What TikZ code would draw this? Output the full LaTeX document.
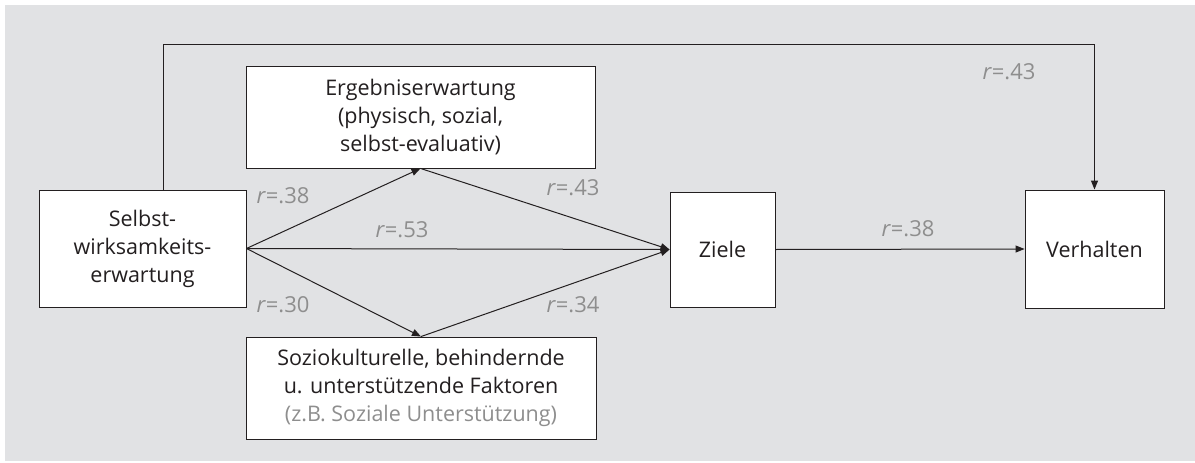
\documentclass[tikz,border=0pt]{standalone}
\usepackage{fontspec}
\setmainfont{Open Sans}
\usetikzlibrary{arrows.meta,calc}
\definecolor{bg}{HTML}{E1E2E4}
\definecolor{lbl}{HTML}{8E8E8E}
\definecolor{ln}{HTML}{231F20}
\begin{document}
\begin{tikzpicture}[x=1pt,y=-1pt,
  box/.style={draw=ln,line width=0.9pt,fill=white,align=center,inner sep=0pt,
    font=\fontsize{21.5}{28}\selectfont,text=ln},
  arr/.style={draw=ln,line width=1pt,-{Triangle[length=9pt,width=7pt]}},
  rlab/.style={text=lbl,font=\fontsize{22}{24}\selectfont,inner sep=0pt}]
\useasboundingbox (0,0) rectangle (1195,463);
\fill[bg] (5,5) rectangle (1195,461);
\node[box,minimum width=207pt,minimum height=117pt] (sw) at (142.5,248.5) {Selbst-\\wirksamkeits-\\erwartung};
\node[box,minimum width=349pt,minimum height=102pt] (erg) at (420.5,117) {Ergebniserwartung\\(physisch, sozial,\\selbst-evaluativ)};
\node[box,minimum width=350pt,minimum height=102pt] (soz) at (421,388) {Soziokulturelle, behindernde\\u. unterstützende Faktoren\\\textcolor{lbl}{(z.B. Soziale Unterstützung)}};
\node[box,minimum width=105pt,minimum height=115pt] (ziele) at (722.5,249.5) {Ziele};
\node[box,minimum width=139pt,minimum height=118pt] (verh) at (1094.5,249) {Verhalten};
\coordinate (t1) at (163,44);
\draw[arr] (t1 |- sw.north) -- (t1) -- (t1 -| verh.north) -- (verh.north);
\draw[arr] (sw.east) -- (erg.south);
\draw[arr] (sw.east) -- (soz.north);
\draw[arr] (sw.east) -- (ziele.west);
\draw[arr] (erg.south) -- (ziele.west);
\draw[arr] (soz.north) -- (ziele.west);
\draw[arr] (ziele.east) -- (verh.west);
\node[rlab] (l1) at (283,196) {\textit{r}=.38};
\node[rlab] (l2) at (402,230) {\textit{r}=.53};
\node[rlab] (l3) at (283,305) {\textit{r}=.30};
\node[rlab] (l4) at (573,188) {\textit{r}=.43};
\node[rlab] (l5) at (573,305) {\textit{r}=.34};
\node[rlab] (l6) at (908,229) {\textit{r}=.38};
\node[rlab] (l7) at (1009,72) {\textit{r}=.43};
\end{tikzpicture}
\end{document}
